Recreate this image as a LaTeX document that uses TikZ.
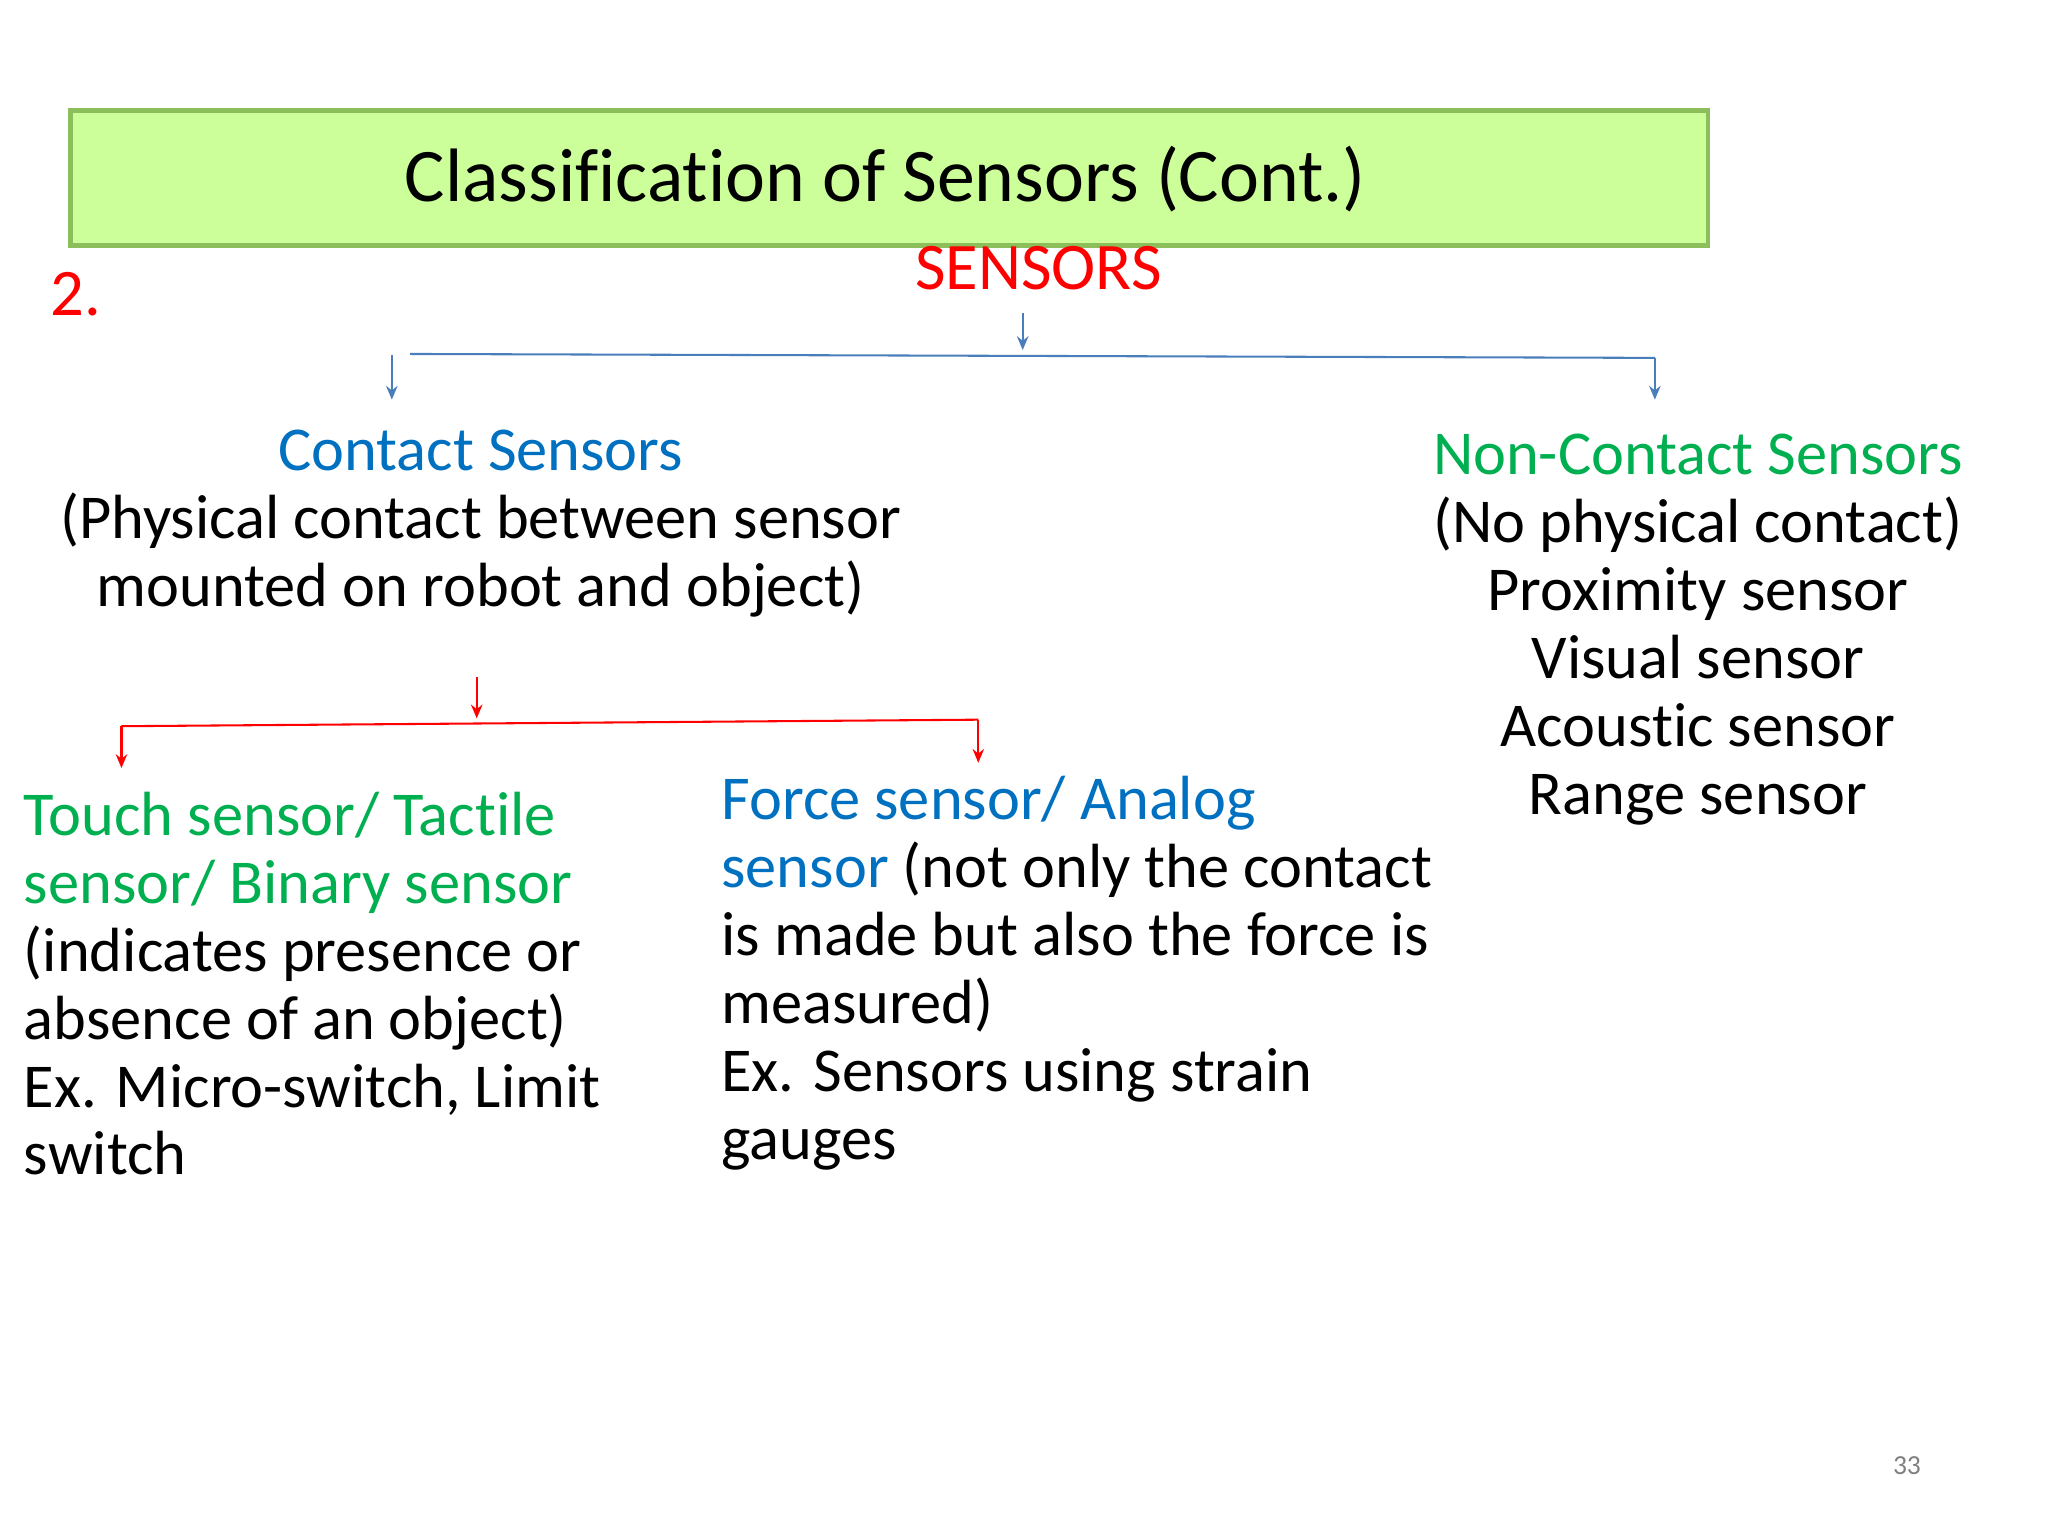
\documentclass[tikz,border=0pt]{standalone}
\usepackage{fontspec}
\setmainfont[Ligatures=NoCommon]{Carlito}
\usetikzlibrary{arrows.meta}
\definecolor{tgreen}{HTML}{CCFF99}
\definecolor{tborder}{HTML}{8CBF5C}
\definecolor{cblue}{HTML}{0070C0}
\definecolor{lblue}{HTML}{4A7EBB}
\definecolor{cgreen}{HTML}{00B050}
\begin{document}
\begin{tikzpicture}[x=0.02cm,y=-0.02cm,
 txt/.style={inner sep=0pt,font=\fontsize{27.2}{29.6}\selectfont},
 barr/.style={draw=lblue,line width=0.9pt,-{Stealth[length=6pt,width=5pt]}},
 bl/.style={draw=lblue,line width=0.9pt},
 rarr/.style={draw=red,line width=0.9pt,-{Stealth[length=6pt,width=5pt]}},
 rl/.style={draw=red,line width=0.9pt}]
\useasboundingbox (0,0) rectangle (1568,1176);
\fill[white] (0,0) rectangle (1568,1176);
\node[draw=tborder,line width=2pt,fill=tgreen,minimum width=1254*0.02cm,minimum height=103*0.02cm,anchor=north west,inner sep=0pt] (title) at (52,83) {};
\node[txt,font=\fontsize{33}{36}\selectfont] (tt) at (678,137) {Classification of Sensors (Cont.)};
\node[txt,text=red,font=\fontsize{29}{30}\selectfont] (two) at (58,225) {2.};
\node[txt,text=red,font=\fontsize{29}{30}\selectfont] (sens) at (795,205) {SENSORS};
\coordinate (a1) at (783,240); \coordinate (a2) at (783,268);
\draw[barr] (a1) -- (a2);
\coordinate (l1) at (314,271); \coordinate (l2) at (1267,274); \coordinate (l3) at (1267,306);
\draw[bl] (l1) -- (l2);
\draw[barr] (l2) -- (l3);
\coordinate (b1) at (300,272); \coordinate (b2) at (300,306);
\draw[barr] (b1) -- (b2);
\node[txt,align=center,anchor=north] (contact) at (368,329) {\textcolor{cblue}{Contact Sensors}\\(Physical contact between sensor\\mounted on robot and object)};
\node[txt,align=center,anchor=north] (non) at (1300,332) {\textcolor{cgreen}{Non-Contact Sensors}\\(No physical contact)\\Proximity sensor\\Visual sensor\\Acoustic sensor\\Range sensor};
\coordinate (r1) at (365,518); \coordinate (r2) at (365,550);
\draw[rarr] (r1) -- (r2);
\coordinate (m1) at (93,556); \coordinate (m2) at (749,551);
\coordinate (m3) at (93,588); \coordinate (m4) at (749,584);
\draw[rl] (m1) -- (m2);
\draw[rarr] (m1) -- (m3);
\draw[rarr] (m2) -- (m4);
\node[txt,align=left,anchor=north west] (touch) at (18,606) {\textcolor{cgreen}{Touch sensor/ Tactile}\\\textcolor{cgreen}{sensor/ Binary sensor}\\(indicates presence or\\absence of an object)\\Ex. Micro-switch, Limit\\switch};
\node[txt,align=left,anchor=north west] (force) at (552,594) {\textcolor{cblue}{Force sensor/ Analog}\\\textcolor{cblue}{sensor} (not only the contact\\is made but also the force is\\measured)\\Ex. Sensors using strain\\gauges};
\node[inner sep=0pt,text=gray,font=\fontsize{12}{13}\selectfont] (pg) at (1460,1122) {33};
\end{tikzpicture}
\end{document}
